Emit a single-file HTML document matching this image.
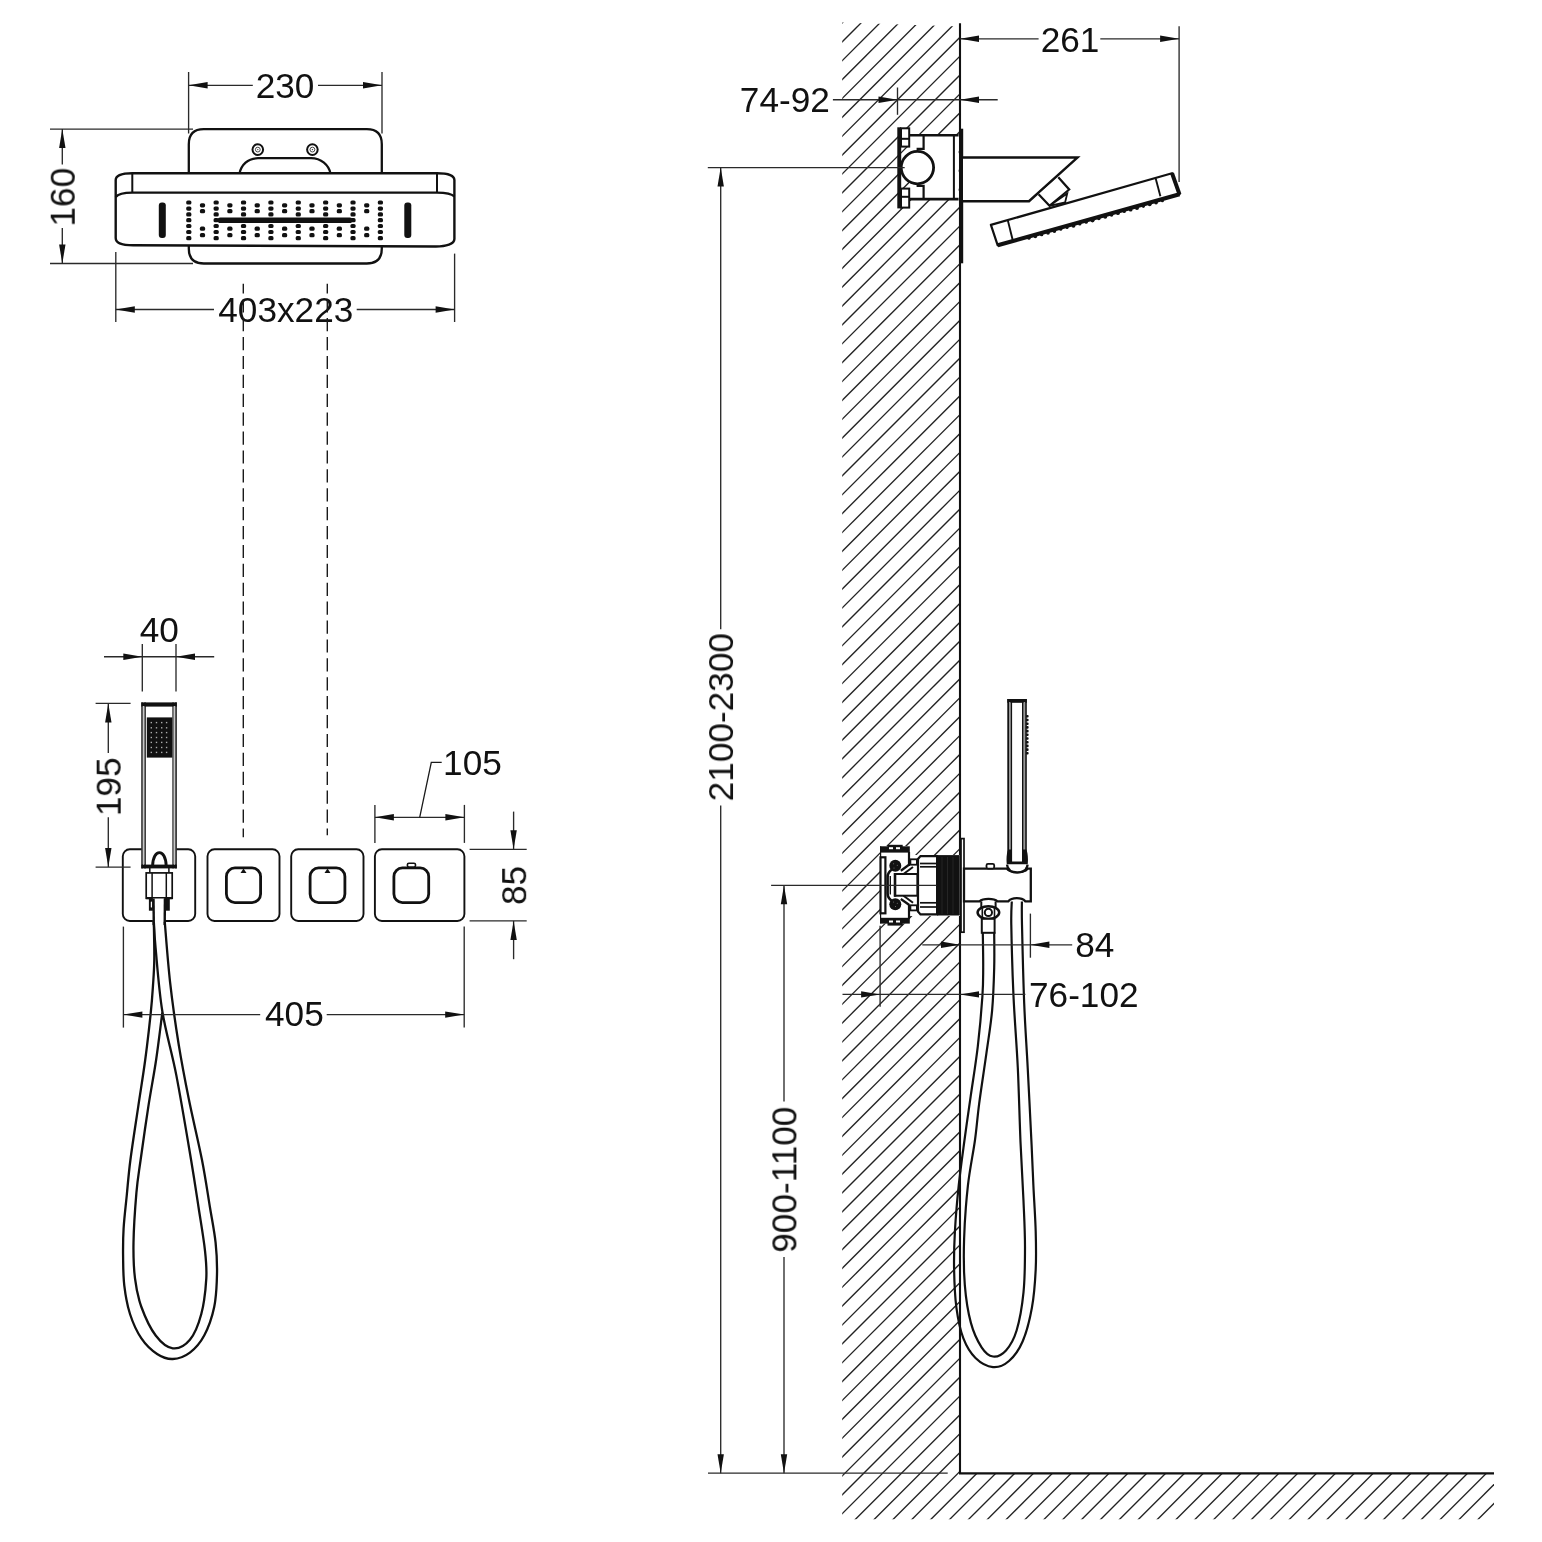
<!DOCTYPE html>
<html><head><meta charset="utf-8"><style>
html,body{margin:0;padding:0;background:#fff;}
svg{display:block;}
text{will-change:transform;}
text{font-family:"Liberation Sans",sans-serif;font-size:35.2px;fill:#111;}
</style></head><body>
<svg width="1542" height="1542" viewBox="0 0 1542 1542">
<rect width="1542" height="1542" fill="#fff"/>
<path d="M188.8,144.2 Q188.8,129.2 203.8,129.2 L366.8,129.2 Q381.8,129.2 381.8,144.2 L381.8,248.5 Q381.8,263.5 366.8,263.5 L203.8,263.5 Q188.8,263.5 188.8,248.5 Z" fill="#fff" stroke="#111" stroke-width="2.3"/>
<circle cx="257.8" cy="149.6" r="5.3" fill="#fff" stroke="#111" stroke-width="2"/>
<circle cx="257.8" cy="149.6" r="2.4" fill="none" stroke="#333" stroke-width="0.9"/>
<circle cx="257.8" cy="149.6" r="0.7" fill="#333"/>
<circle cx="312.4" cy="149.6" r="5.3" fill="#fff" stroke="#111" stroke-width="2"/>
<circle cx="312.4" cy="149.6" r="2.4" fill="none" stroke="#333" stroke-width="0.9"/>
<circle cx="312.4" cy="149.6" r="0.7" fill="#333"/>
<path d="M239.4,174 C241,165 248,158.2 258,158.2 L311,158.2 C321,158.2 329,165 330.6,174" fill="#fff" stroke="#111" stroke-width="2.3" />
<path d="M132.3,173.2 L437,173.2 C447,173.2 454.2,175.5 454.4,180 L454.4,239 C454.4,244 446,246.5 436,246.5 L133,245.3 C122,245.3 115.7,243 115.7,238 L115.7,180 C115.7,175.5 122,173.2 132.3,173.2 Z" fill="#fff" stroke="#111" stroke-width="2.4" />
<path d="M115.7,197 C118,194 124,192.6 132.3,192.6 L437,192.6 C446,192.6 452,194 454.4,196.5" fill="none" stroke="#111" stroke-width="2.4" />
<line x1="132.30" y1="173.20" x2="132.30" y2="192.60" stroke="#111" stroke-width="2" />
<line x1="437.00" y1="173.20" x2="437.00" y2="192.60" stroke="#111" stroke-width="2" />
<rect x="158.8" y="202.5" width="7" height="35.5" rx="3" fill="#111"/>
<rect x="404.3" y="202.5" width="7" height="35.5" rx="3" fill="#111"/>
<rect x="186.20" y="200.40" width="5.2" height="4.2" rx="1.6" fill="#111"/>
<rect x="186.20" y="206.50" width="5.2" height="4.2" rx="1.6" fill="#111"/>
<rect x="186.20" y="212.30" width="5.2" height="4.2" rx="1.6" fill="#111"/>
<rect x="186.20" y="218.10" width="5.2" height="4.2" rx="1.6" fill="#111"/>
<rect x="186.20" y="223.90" width="5.2" height="4.2" rx="1.6" fill="#111"/>
<rect x="186.20" y="229.90" width="5.2" height="4.2" rx="1.6" fill="#111"/>
<rect x="186.20" y="236.10" width="5.2" height="4.2" rx="1.6" fill="#111"/>
<rect x="213.57" y="200.40" width="5.2" height="4.2" rx="1.6" fill="#111"/>
<rect x="213.57" y="206.50" width="5.2" height="4.2" rx="1.6" fill="#111"/>
<rect x="213.57" y="212.30" width="5.2" height="4.2" rx="1.6" fill="#111"/>
<rect x="213.57" y="218.10" width="5.2" height="4.2" rx="1.6" fill="#111"/>
<rect x="213.57" y="223.90" width="5.2" height="4.2" rx="1.6" fill="#111"/>
<rect x="213.57" y="229.90" width="5.2" height="4.2" rx="1.6" fill="#111"/>
<rect x="213.57" y="236.10" width="5.2" height="4.2" rx="1.6" fill="#111"/>
<rect x="240.94" y="200.40" width="5.2" height="4.2" rx="1.6" fill="#111"/>
<rect x="240.94" y="206.50" width="5.2" height="4.2" rx="1.6" fill="#111"/>
<rect x="240.94" y="212.30" width="5.2" height="4.2" rx="1.6" fill="#111"/>
<rect x="240.94" y="218.10" width="5.2" height="4.2" rx="1.6" fill="#111"/>
<rect x="240.94" y="223.90" width="5.2" height="4.2" rx="1.6" fill="#111"/>
<rect x="240.94" y="229.90" width="5.2" height="4.2" rx="1.6" fill="#111"/>
<rect x="240.94" y="236.10" width="5.2" height="4.2" rx="1.6" fill="#111"/>
<rect x="268.31" y="200.40" width="5.2" height="4.2" rx="1.6" fill="#111"/>
<rect x="268.31" y="206.50" width="5.2" height="4.2" rx="1.6" fill="#111"/>
<rect x="268.31" y="212.30" width="5.2" height="4.2" rx="1.6" fill="#111"/>
<rect x="268.31" y="218.10" width="5.2" height="4.2" rx="1.6" fill="#111"/>
<rect x="268.31" y="223.90" width="5.2" height="4.2" rx="1.6" fill="#111"/>
<rect x="268.31" y="229.90" width="5.2" height="4.2" rx="1.6" fill="#111"/>
<rect x="268.31" y="236.10" width="5.2" height="4.2" rx="1.6" fill="#111"/>
<rect x="295.68" y="200.40" width="5.2" height="4.2" rx="1.6" fill="#111"/>
<rect x="295.68" y="206.50" width="5.2" height="4.2" rx="1.6" fill="#111"/>
<rect x="295.68" y="212.30" width="5.2" height="4.2" rx="1.6" fill="#111"/>
<rect x="295.68" y="218.10" width="5.2" height="4.2" rx="1.6" fill="#111"/>
<rect x="295.68" y="223.90" width="5.2" height="4.2" rx="1.6" fill="#111"/>
<rect x="295.68" y="229.90" width="5.2" height="4.2" rx="1.6" fill="#111"/>
<rect x="295.68" y="236.10" width="5.2" height="4.2" rx="1.6" fill="#111"/>
<rect x="323.05" y="200.40" width="5.2" height="4.2" rx="1.6" fill="#111"/>
<rect x="323.05" y="206.50" width="5.2" height="4.2" rx="1.6" fill="#111"/>
<rect x="323.05" y="212.30" width="5.2" height="4.2" rx="1.6" fill="#111"/>
<rect x="323.05" y="218.10" width="5.2" height="4.2" rx="1.6" fill="#111"/>
<rect x="323.05" y="223.90" width="5.2" height="4.2" rx="1.6" fill="#111"/>
<rect x="323.05" y="229.90" width="5.2" height="4.2" rx="1.6" fill="#111"/>
<rect x="323.05" y="236.10" width="5.2" height="4.2" rx="1.6" fill="#111"/>
<rect x="350.42" y="200.40" width="5.2" height="4.2" rx="1.6" fill="#111"/>
<rect x="350.42" y="206.50" width="5.2" height="4.2" rx="1.6" fill="#111"/>
<rect x="350.42" y="212.30" width="5.2" height="4.2" rx="1.6" fill="#111"/>
<rect x="350.42" y="218.10" width="5.2" height="4.2" rx="1.6" fill="#111"/>
<rect x="350.42" y="223.90" width="5.2" height="4.2" rx="1.6" fill="#111"/>
<rect x="350.42" y="229.90" width="5.2" height="4.2" rx="1.6" fill="#111"/>
<rect x="350.42" y="236.10" width="5.2" height="4.2" rx="1.6" fill="#111"/>
<rect x="377.79" y="200.40" width="5.2" height="4.2" rx="1.6" fill="#111"/>
<rect x="377.79" y="206.50" width="5.2" height="4.2" rx="1.6" fill="#111"/>
<rect x="377.79" y="212.30" width="5.2" height="4.2" rx="1.6" fill="#111"/>
<rect x="377.79" y="218.10" width="5.2" height="4.2" rx="1.6" fill="#111"/>
<rect x="377.79" y="223.90" width="5.2" height="4.2" rx="1.6" fill="#111"/>
<rect x="377.79" y="229.90" width="5.2" height="4.2" rx="1.6" fill="#111"/>
<rect x="377.79" y="236.10" width="5.2" height="4.2" rx="1.6" fill="#111"/>
<rect x="199.90" y="203.20" width="5.2" height="4.2" rx="1.6" fill="#111"/>
<rect x="199.90" y="209.10" width="5.2" height="4.2" rx="1.6" fill="#111"/>
<rect x="199.90" y="226.60" width="5.2" height="4.2" rx="1.6" fill="#111"/>
<rect x="199.90" y="233.10" width="5.2" height="4.2" rx="1.6" fill="#111"/>
<rect x="227.27" y="203.20" width="5.2" height="4.2" rx="1.6" fill="#111"/>
<rect x="227.27" y="209.10" width="5.2" height="4.2" rx="1.6" fill="#111"/>
<rect x="227.27" y="226.60" width="5.2" height="4.2" rx="1.6" fill="#111"/>
<rect x="227.27" y="233.10" width="5.2" height="4.2" rx="1.6" fill="#111"/>
<rect x="254.64" y="203.20" width="5.2" height="4.2" rx="1.6" fill="#111"/>
<rect x="254.64" y="209.10" width="5.2" height="4.2" rx="1.6" fill="#111"/>
<rect x="254.64" y="226.60" width="5.2" height="4.2" rx="1.6" fill="#111"/>
<rect x="254.64" y="233.10" width="5.2" height="4.2" rx="1.6" fill="#111"/>
<rect x="282.01" y="203.20" width="5.2" height="4.2" rx="1.6" fill="#111"/>
<rect x="282.01" y="209.10" width="5.2" height="4.2" rx="1.6" fill="#111"/>
<rect x="282.01" y="226.60" width="5.2" height="4.2" rx="1.6" fill="#111"/>
<rect x="282.01" y="233.10" width="5.2" height="4.2" rx="1.6" fill="#111"/>
<rect x="309.38" y="203.20" width="5.2" height="4.2" rx="1.6" fill="#111"/>
<rect x="309.38" y="209.10" width="5.2" height="4.2" rx="1.6" fill="#111"/>
<rect x="309.38" y="226.60" width="5.2" height="4.2" rx="1.6" fill="#111"/>
<rect x="309.38" y="233.10" width="5.2" height="4.2" rx="1.6" fill="#111"/>
<rect x="336.75" y="203.20" width="5.2" height="4.2" rx="1.6" fill="#111"/>
<rect x="336.75" y="209.10" width="5.2" height="4.2" rx="1.6" fill="#111"/>
<rect x="336.75" y="226.60" width="5.2" height="4.2" rx="1.6" fill="#111"/>
<rect x="336.75" y="233.10" width="5.2" height="4.2" rx="1.6" fill="#111"/>
<rect x="364.12" y="203.20" width="5.2" height="4.2" rx="1.6" fill="#111"/>
<rect x="364.12" y="209.10" width="5.2" height="4.2" rx="1.6" fill="#111"/>
<rect x="364.12" y="226.60" width="5.2" height="4.2" rx="1.6" fill="#111"/>
<rect x="364.12" y="233.10" width="5.2" height="4.2" rx="1.6" fill="#111"/>
<rect x="217.5" y="217.4" width="135" height="5.6" rx="2.8" fill="#111"/>
<line x1="188.60" y1="72.00" x2="188.60" y2="133.50" stroke="#2a2a2a" stroke-width="1.35" />
<line x1="382.00" y1="72.00" x2="382.00" y2="133.50" stroke="#2a2a2a" stroke-width="1.35" />
<line x1="188.60" y1="85.30" x2="252.80" y2="85.30" stroke="#2a2a2a" stroke-width="1.35" />
<line x1="318.00" y1="85.30" x2="382.00" y2="85.30" stroke="#2a2a2a" stroke-width="1.35" />
<polygon points="188.60,85.30 207.60,82.10 207.60,88.50" fill="#111"/>
<polygon points="382.00,85.30 363.00,88.50 363.00,82.10" fill="#111"/>
<text x="255.63" y="97.64">230</text>
<line x1="50.00" y1="129.10" x2="193.00" y2="129.10" stroke="#2a2a2a" stroke-width="1.35" />
<line x1="50.00" y1="263.50" x2="193.00" y2="263.50" stroke="#2a2a2a" stroke-width="1.35" />
<line x1="62.30" y1="129.10" x2="62.30" y2="164.60" stroke="#2a2a2a" stroke-width="1.35" />
<line x1="62.30" y1="227.90" x2="62.30" y2="263.50" stroke="#2a2a2a" stroke-width="1.35" />
<polygon points="62.30,129.10 65.50,148.10 59.10,148.10" fill="#111"/>
<polygon points="62.30,263.50 59.10,244.50 65.50,244.50" fill="#111"/>
<text transform="translate(74.74,226.60) rotate(-90)" x="0" y="0">160</text>
<line x1="115.80" y1="252.00" x2="115.80" y2="322.00" stroke="#2a2a2a" stroke-width="1.35" />
<line x1="454.60" y1="253.60" x2="454.60" y2="322.00" stroke="#2a2a2a" stroke-width="1.35" />
<line x1="115.80" y1="309.50" x2="214.00" y2="309.50" stroke="#2a2a2a" stroke-width="1.35" />
<line x1="356.70" y1="309.50" x2="454.60" y2="309.50" stroke="#2a2a2a" stroke-width="1.35" />
<polygon points="115.80,309.50 134.80,306.30 134.80,312.70" fill="#111"/>
<polygon points="454.60,309.50 435.60,312.70 435.60,306.30" fill="#111"/>
<text x="218.29" y="321.54">403x223</text>
<line x1="243.3" y1="283.8" x2="243.3" y2="837.3" stroke="#1a1a1a" stroke-width="1.4" stroke-dasharray="13.2 5.7" stroke-dashoffset="3.5"/>
<line x1="327.3" y1="283.8" x2="327.3" y2="835.3" stroke="#1a1a1a" stroke-width="1.4" stroke-dasharray="13.2 5.7" stroke-dashoffset="3.5"/>
<rect x="122.80" y="849.30" width="72.40" height="71.70" rx="7" ry="7" fill="#fff" stroke="#111" stroke-width="1.9"/>
<rect x="207.50" y="849.30" width="72.00" height="71.70" rx="7" ry="7" fill="#fff" stroke="#111" stroke-width="1.9"/>
<rect x="291.20" y="849.30" width="72.30" height="71.70" rx="7" ry="7" fill="#fff" stroke="#111" stroke-width="1.9"/>
<rect x="374.90" y="849.30" width="89.50" height="71.70" rx="7" ry="7" fill="#fff" stroke="#111" stroke-width="1.9"/>
<rect x="226.40" y="867.90" width="34.20" height="34.70" rx="8.5" ry="8.5" fill="#fff" stroke="#111" stroke-width="2.8"/>
<rect x="310.10" y="867.90" width="34.80" height="34.70" rx="8.5" ry="8.5" fill="#fff" stroke="#111" stroke-width="2.8"/>
<rect x="393.90" y="867.90" width="34.80" height="34.70" rx="8.5" ry="8.5" fill="#fff" stroke="#111" stroke-width="2.8"/>
<polygon points="240.50,873 246.50,873 243.50,868.4" fill="#111"/>
<polygon points="324.50,873 330.50,873 327.50,868.4" fill="#111"/>
<rect x="407.40" y="863.30" width="8.10" height="3.70" rx="1.5" ry="1.5" fill="#fff" stroke="#111" stroke-width="1.6"/>
<path d="M153.80,921.00 C153.88,927.32 154.43,948.17 154.30,958.90 C154.17,969.63 153.60,976.32 153.00,985.40 C152.40,994.48 152.00,1000.97 150.70,1013.40 C149.40,1025.83 147.28,1044.43 145.20,1060.00 C143.12,1075.57 140.67,1090.13 138.20,1106.80 C135.73,1123.47 132.30,1145.30 130.40,1160.00 C128.50,1174.70 127.93,1183.58 126.80,1195.00 C125.67,1206.42 124.22,1218.17 123.60,1228.50 C122.98,1238.83 122.98,1247.48 123.10,1257.00 C123.22,1266.52 123.15,1276.10 124.30,1285.60 C125.45,1295.10 127.15,1305.20 130.00,1314.00 C132.85,1322.80 136.88,1331.73 141.40,1338.40 C145.92,1345.07 151.87,1350.57 157.10,1354.00 C162.33,1357.43 167.33,1359.23 172.80,1359.00 C178.27,1358.77 184.67,1356.52 189.90,1352.60 C195.13,1348.68 200.15,1343.10 204.20,1335.50 C208.25,1327.90 212.07,1317.25 214.20,1307.00 C216.33,1296.75 216.77,1284.72 217.00,1274.00 C217.23,1263.28 216.78,1253.87 215.60,1242.70 C214.42,1231.53 212.17,1220.78 209.90,1207.00 C207.63,1193.22 205.52,1178.00 202.00,1160.00 C198.48,1142.00 192.68,1118.25 188.80,1099.00 C184.92,1079.75 181.82,1063.95 178.70,1044.50 C175.58,1025.05 172.43,1002.88 170.10,982.30 C167.77,961.72 165.60,931.22 164.70,921.00" fill="none" stroke="#111" stroke-width="2.3" />
<path d="M153.80,921.00 C154.10,925.50 154.17,932.87 155.60,948.00 C157.03,963.13 158.93,990.53 162.40,1011.80 C165.87,1033.07 171.62,1050.90 176.40,1075.60 C181.18,1100.30 187.42,1138.10 191.10,1160.00 C194.78,1181.90 196.20,1192.02 198.50,1207.00 C200.80,1221.98 203.60,1238.00 204.90,1249.90 C206.20,1261.80 206.90,1267.72 206.30,1278.40 C205.70,1289.08 204.03,1303.77 201.30,1314.00 C198.57,1324.23 194.65,1334.08 189.90,1339.80 C185.15,1345.52 178.50,1349.02 172.80,1348.30 C167.10,1347.58 160.93,1342.38 155.70,1335.50 C150.47,1328.62 144.85,1316.52 141.40,1307.00 C137.95,1297.48 136.32,1289.12 135.00,1278.40 C133.68,1267.68 133.27,1256.97 133.50,1242.70 C133.73,1228.43 135.22,1206.58 136.40,1192.80 C137.58,1179.02 138.62,1174.33 140.60,1160.00 C142.58,1145.67 145.72,1123.47 148.30,1106.80 C150.88,1090.13 153.75,1075.83 156.10,1060.00 C158.45,1044.17 161.35,1019.83 162.40,1011.80" fill="none" stroke="#111" stroke-width="2.3" />
<rect x="141.6" y="703.1" width="35" height="164" fill="#fff"/>
<rect x="141.30" y="702.40" width="35.50" height="4.20" fill="#111"/>
<rect x="141.30" y="864.60" width="35.50" height="3.80" fill="#111"/>
<rect x="141.30" y="702.40" width="1.50" height="166.00" fill="#111"/>
<rect x="144.30" y="702.40" width="1.50" height="166.00" fill="#111"/>
<rect x="172.40" y="702.40" width="1.30" height="166.00" fill="#111"/>
<rect x="175.20" y="702.40" width="1.60" height="166.00" fill="#111"/>
<rect x="142.8" y="706" width="1.5" height="158" fill="#c8c8c8"/>
<rect x="173.7" y="706" width="1.5" height="158" fill="#c8c8c8"/>
<rect x="146.80" y="717.40" width="25.50" height="40.20" fill="#111"/>
<rect x="150.60" y="721.90" width="1.4" height="1.4" fill="#aaa"/>
<rect x="155.80" y="721.90" width="1.4" height="1.4" fill="#aaa"/>
<rect x="161.00" y="721.90" width="1.4" height="1.4" fill="#aaa"/>
<rect x="165.90" y="721.90" width="1.4" height="1.4" fill="#aaa"/>
<rect x="150.60" y="727.10" width="1.4" height="1.4" fill="#aaa"/>
<rect x="155.80" y="727.10" width="1.4" height="1.4" fill="#aaa"/>
<rect x="161.00" y="727.10" width="1.4" height="1.4" fill="#aaa"/>
<rect x="165.90" y="727.10" width="1.4" height="1.4" fill="#aaa"/>
<rect x="150.60" y="731.90" width="1.4" height="1.4" fill="#aaa"/>
<rect x="155.80" y="731.90" width="1.4" height="1.4" fill="#aaa"/>
<rect x="161.00" y="731.90" width="1.4" height="1.4" fill="#aaa"/>
<rect x="165.90" y="731.90" width="1.4" height="1.4" fill="#aaa"/>
<rect x="150.60" y="736.80" width="1.4" height="1.4" fill="#aaa"/>
<rect x="155.80" y="736.80" width="1.4" height="1.4" fill="#aaa"/>
<rect x="161.00" y="736.80" width="1.4" height="1.4" fill="#aaa"/>
<rect x="165.90" y="736.80" width="1.4" height="1.4" fill="#aaa"/>
<rect x="150.60" y="741.70" width="1.4" height="1.4" fill="#aaa"/>
<rect x="155.80" y="741.70" width="1.4" height="1.4" fill="#aaa"/>
<rect x="161.00" y="741.70" width="1.4" height="1.4" fill="#aaa"/>
<rect x="165.90" y="741.70" width="1.4" height="1.4" fill="#aaa"/>
<rect x="150.60" y="746.80" width="1.4" height="1.4" fill="#aaa"/>
<rect x="155.80" y="746.80" width="1.4" height="1.4" fill="#aaa"/>
<rect x="161.00" y="746.80" width="1.4" height="1.4" fill="#aaa"/>
<rect x="165.90" y="746.80" width="1.4" height="1.4" fill="#aaa"/>
<rect x="150.60" y="751.70" width="1.4" height="1.4" fill="#aaa"/>
<rect x="155.80" y="751.70" width="1.4" height="1.4" fill="#aaa"/>
<rect x="161.00" y="751.70" width="1.4" height="1.4" fill="#aaa"/>
<rect x="165.90" y="751.70" width="1.4" height="1.4" fill="#aaa"/>
<path d="M152.6,866 C152.8,857 156,852.6 159.4,852.6 C162.8,852.6 166,857 166.2,866" fill="none" stroke="#111" stroke-width="2.9" />
<line x1="149.80" y1="867.50" x2="149.80" y2="873.00" stroke="#111" stroke-width="1.5" />
<line x1="168.90" y1="867.50" x2="168.90" y2="873.00" stroke="#111" stroke-width="1.5" />
<rect x="146.2" y="872.9" width="26" height="25.4" fill="#fff" stroke="#111" stroke-width="1.7"/>
<line x1="146.20" y1="898.10" x2="172.20" y2="898.10" stroke="#111" stroke-width="2.2" />
<line x1="152.10" y1="872.90" x2="152.10" y2="898.20" stroke="#111" stroke-width="1.5" />
<line x1="166.30" y1="872.90" x2="166.30" y2="898.20" stroke="#111" stroke-width="1.5" />
<rect x="148.90" y="898.00" width="5.70" height="12.70" fill="#111"/>
<rect x="163.50" y="898.00" width="6.30" height="12.70" fill="#111"/>
<rect x="150.8" y="901.5" width="1.2" height="6" rx="0.6" fill="#fff"/>
<rect x="152.9" y="898.5" width="11.4" height="23.6" fill="#fff"/>
<line x1="153.50" y1="898.50" x2="153.80" y2="925.00" stroke="#111" stroke-width="2.4" />
<line x1="164.90" y1="898.50" x2="164.70" y2="925.00" stroke="#111" stroke-width="2.4" />
<line x1="104.00" y1="656.70" x2="214.20" y2="656.70" stroke="#2a2a2a" stroke-width="1.35" />
<line x1="142.30" y1="644.00" x2="142.30" y2="691.40" stroke="#2a2a2a" stroke-width="1.35" />
<line x1="176.00" y1="644.00" x2="176.00" y2="691.40" stroke="#2a2a2a" stroke-width="1.35" />
<polygon points="142.30,656.70 123.30,659.90 123.30,653.50" fill="#111"/>
<polygon points="176.00,656.70 195.00,653.50 195.00,659.90" fill="#111"/>
<text x="139.72" y="641.79">40</text>
<line x1="95.60" y1="703.40" x2="130.60" y2="703.40" stroke="#2a2a2a" stroke-width="1.35" />
<line x1="95.60" y1="867.10" x2="130.60" y2="867.10" stroke="#2a2a2a" stroke-width="1.35" />
<line x1="108.30" y1="703.40" x2="108.30" y2="753.00" stroke="#2a2a2a" stroke-width="1.35" />
<line x1="108.30" y1="817.20" x2="108.30" y2="867.10" stroke="#2a2a2a" stroke-width="1.35" />
<polygon points="108.30,703.40 111.50,722.40 105.10,722.40" fill="#111"/>
<polygon points="108.30,867.10 105.10,848.10 111.50,848.10" fill="#111"/>
<text transform="translate(120.69,816.15) rotate(-90)" x="0" y="0">195</text>
<line x1="374.90" y1="804.90" x2="374.90" y2="842.90" stroke="#2a2a2a" stroke-width="1.35" />
<line x1="464.40" y1="804.90" x2="464.40" y2="842.90" stroke="#2a2a2a" stroke-width="1.35" />
<line x1="374.90" y1="817.30" x2="464.40" y2="817.30" stroke="#2a2a2a" stroke-width="1.35" />
<polygon points="374.90,817.30 393.90,814.10 393.90,820.50" fill="#111"/>
<polygon points="464.40,817.30 445.40,820.50 445.40,814.10" fill="#111"/>
<polyline points="419.7,817.3 431.3,762.4 441.7,762.4" fill="none" stroke="#1a1a1a" stroke-width="1.3"/>
<text x="443.10" y="774.84">105</text>
<line x1="469.60" y1="849.30" x2="526.70" y2="849.30" stroke="#2a2a2a" stroke-width="1.35" />
<line x1="469.60" y1="920.90" x2="526.70" y2="920.90" stroke="#2a2a2a" stroke-width="1.35" />
<line x1="513.60" y1="811.60" x2="513.60" y2="849.30" stroke="#2a2a2a" stroke-width="1.35" />
<line x1="513.60" y1="920.90" x2="513.60" y2="959.20" stroke="#2a2a2a" stroke-width="1.35" />
<polygon points="513.60,849.30 510.40,830.30 516.80,830.30" fill="#111"/>
<polygon points="513.60,920.90 516.80,939.90 510.40,939.90" fill="#111"/>
<text transform="translate(526.19,904.94) rotate(-90)" x="0" y="0">85</text>
<line x1="123.40" y1="926.60" x2="123.40" y2="1027.60" stroke="#2a2a2a" stroke-width="1.35" />
<line x1="464.20" y1="926.40" x2="464.20" y2="1027.60" stroke="#2a2a2a" stroke-width="1.35" />
<line x1="123.40" y1="1014.60" x2="260.20" y2="1014.60" stroke="#2a2a2a" stroke-width="1.35" />
<line x1="326.70" y1="1014.60" x2="464.20" y2="1014.60" stroke="#2a2a2a" stroke-width="1.35" />
<polygon points="123.40,1014.60 142.40,1011.40 142.40,1017.80" fill="#111"/>
<polygon points="464.20,1014.60 445.20,1017.80 445.20,1011.40" fill="#111"/>
<text x="265.01" y="1026.34">405</text>
<defs><clipPath id="hc"><polygon points="842.2,22.6 960,26.4 960,1473.3 1494,1473.3 1494,1519.2 842.2,1519.2"/></clipPath></defs>
<g clip-path="url(#hc)" stroke="#222" stroke-width="1.35">
<line x1="846.26" y1="0" x2="-695.74" y2="1542"/>
<line x1="865.13" y1="0" x2="-676.87" y2="1542"/>
<line x1="884.00" y1="0" x2="-658.00" y2="1542"/>
<line x1="902.87" y1="0" x2="-639.13" y2="1542"/>
<line x1="921.74" y1="0" x2="-620.26" y2="1542"/>
<line x1="940.61" y1="0" x2="-601.39" y2="1542"/>
<line x1="959.48" y1="0" x2="-582.52" y2="1542"/>
<line x1="978.35" y1="0" x2="-563.65" y2="1542"/>
<line x1="997.22" y1="0" x2="-544.78" y2="1542"/>
<line x1="1016.09" y1="0" x2="-525.91" y2="1542"/>
<line x1="1034.96" y1="0" x2="-507.04" y2="1542"/>
<line x1="1053.83" y1="0" x2="-488.17" y2="1542"/>
<line x1="1072.70" y1="0" x2="-469.30" y2="1542"/>
<line x1="1091.57" y1="0" x2="-450.43" y2="1542"/>
<line x1="1110.44" y1="0" x2="-431.56" y2="1542"/>
<line x1="1129.31" y1="0" x2="-412.69" y2="1542"/>
<line x1="1148.18" y1="0" x2="-393.82" y2="1542"/>
<line x1="1167.05" y1="0" x2="-374.95" y2="1542"/>
<line x1="1185.92" y1="0" x2="-356.08" y2="1542"/>
<line x1="1204.79" y1="0" x2="-337.21" y2="1542"/>
<line x1="1223.66" y1="0" x2="-318.34" y2="1542"/>
<line x1="1242.53" y1="0" x2="-299.47" y2="1542"/>
<line x1="1261.40" y1="0" x2="-280.60" y2="1542"/>
<line x1="1280.27" y1="0" x2="-261.73" y2="1542"/>
<line x1="1299.14" y1="0" x2="-242.86" y2="1542"/>
<line x1="1318.01" y1="0" x2="-223.99" y2="1542"/>
<line x1="1336.88" y1="0" x2="-205.12" y2="1542"/>
<line x1="1355.75" y1="0" x2="-186.25" y2="1542"/>
<line x1="1374.62" y1="0" x2="-167.38" y2="1542"/>
<line x1="1393.49" y1="0" x2="-148.51" y2="1542"/>
<line x1="1412.36" y1="0" x2="-129.64" y2="1542"/>
<line x1="1431.23" y1="0" x2="-110.77" y2="1542"/>
<line x1="1450.10" y1="0" x2="-91.90" y2="1542"/>
<line x1="1468.97" y1="0" x2="-73.03" y2="1542"/>
<line x1="1487.84" y1="0" x2="-54.16" y2="1542"/>
<line x1="1506.71" y1="0" x2="-35.29" y2="1542"/>
<line x1="1525.58" y1="0" x2="-16.42" y2="1542"/>
<line x1="1544.45" y1="0" x2="2.45" y2="1542"/>
<line x1="1563.32" y1="0" x2="21.32" y2="1542"/>
<line x1="1582.19" y1="0" x2="40.19" y2="1542"/>
<line x1="1601.06" y1="0" x2="59.06" y2="1542"/>
<line x1="1619.93" y1="0" x2="77.93" y2="1542"/>
<line x1="1638.80" y1="0" x2="96.80" y2="1542"/>
<line x1="1657.67" y1="0" x2="115.67" y2="1542"/>
<line x1="1676.54" y1="0" x2="134.54" y2="1542"/>
<line x1="1695.41" y1="0" x2="153.41" y2="1542"/>
<line x1="1714.28" y1="0" x2="172.28" y2="1542"/>
<line x1="1733.15" y1="0" x2="191.15" y2="1542"/>
<line x1="1752.02" y1="0" x2="210.02" y2="1542"/>
<line x1="1770.89" y1="0" x2="228.89" y2="1542"/>
<line x1="1789.76" y1="0" x2="247.76" y2="1542"/>
<line x1="1808.63" y1="0" x2="266.63" y2="1542"/>
<line x1="1827.50" y1="0" x2="285.50" y2="1542"/>
<line x1="1846.37" y1="0" x2="304.37" y2="1542"/>
<line x1="1865.24" y1="0" x2="323.24" y2="1542"/>
<line x1="1884.11" y1="0" x2="342.11" y2="1542"/>
<line x1="1902.98" y1="0" x2="360.98" y2="1542"/>
<line x1="1921.85" y1="0" x2="379.85" y2="1542"/>
<line x1="1940.72" y1="0" x2="398.72" y2="1542"/>
<line x1="1959.59" y1="0" x2="417.59" y2="1542"/>
<line x1="1978.46" y1="0" x2="436.46" y2="1542"/>
<line x1="1997.33" y1="0" x2="455.33" y2="1542"/>
<line x1="2016.20" y1="0" x2="474.20" y2="1542"/>
<line x1="2035.07" y1="0" x2="493.07" y2="1542"/>
<line x1="2053.94" y1="0" x2="511.94" y2="1542"/>
<line x1="2072.81" y1="0" x2="530.81" y2="1542"/>
<line x1="2091.68" y1="0" x2="549.68" y2="1542"/>
<line x1="2110.55" y1="0" x2="568.55" y2="1542"/>
<line x1="2129.42" y1="0" x2="587.42" y2="1542"/>
<line x1="2148.29" y1="0" x2="606.29" y2="1542"/>
<line x1="2167.16" y1="0" x2="625.16" y2="1542"/>
<line x1="2186.03" y1="0" x2="644.03" y2="1542"/>
<line x1="2204.90" y1="0" x2="662.90" y2="1542"/>
<line x1="2223.77" y1="0" x2="681.77" y2="1542"/>
<line x1="2242.64" y1="0" x2="700.64" y2="1542"/>
<line x1="2261.51" y1="0" x2="719.51" y2="1542"/>
<line x1="2280.38" y1="0" x2="738.38" y2="1542"/>
<line x1="2299.25" y1="0" x2="757.25" y2="1542"/>
<line x1="2318.12" y1="0" x2="776.12" y2="1542"/>
<line x1="2336.99" y1="0" x2="794.99" y2="1542"/>
<line x1="2355.86" y1="0" x2="813.86" y2="1542"/>
<line x1="2374.73" y1="0" x2="832.73" y2="1542"/>
<line x1="2393.60" y1="0" x2="851.60" y2="1542"/>
<line x1="2412.47" y1="0" x2="870.47" y2="1542"/>
<line x1="2431.34" y1="0" x2="889.34" y2="1542"/>
<line x1="2450.21" y1="0" x2="908.21" y2="1542"/>
<line x1="2469.08" y1="0" x2="927.08" y2="1542"/>
<line x1="2487.95" y1="0" x2="945.95" y2="1542"/>
<line x1="2506.82" y1="0" x2="964.82" y2="1542"/>
<line x1="2525.69" y1="0" x2="983.69" y2="1542"/>
<line x1="2544.56" y1="0" x2="1002.56" y2="1542"/>
<line x1="2563.43" y1="0" x2="1021.43" y2="1542"/>
<line x1="2582.30" y1="0" x2="1040.30" y2="1542"/>
<line x1="2601.17" y1="0" x2="1059.17" y2="1542"/>
<line x1="2620.04" y1="0" x2="1078.04" y2="1542"/>
<line x1="2638.91" y1="0" x2="1096.91" y2="1542"/>
<line x1="2657.78" y1="0" x2="1115.78" y2="1542"/>
<line x1="2676.65" y1="0" x2="1134.65" y2="1542"/>
<line x1="2695.52" y1="0" x2="1153.52" y2="1542"/>
<line x1="2714.39" y1="0" x2="1172.39" y2="1542"/>
<line x1="2733.26" y1="0" x2="1191.26" y2="1542"/>
<line x1="2752.13" y1="0" x2="1210.13" y2="1542"/>
<line x1="2771.00" y1="0" x2="1229.00" y2="1542"/>
<line x1="2789.87" y1="0" x2="1247.87" y2="1542"/>
<line x1="2808.74" y1="0" x2="1266.74" y2="1542"/>
<line x1="2827.61" y1="0" x2="1285.61" y2="1542"/>
<line x1="2846.48" y1="0" x2="1304.48" y2="1542"/>
<line x1="2865.35" y1="0" x2="1323.35" y2="1542"/>
<line x1="2884.22" y1="0" x2="1342.22" y2="1542"/>
<line x1="2903.09" y1="0" x2="1361.09" y2="1542"/>
<line x1="2921.96" y1="0" x2="1379.96" y2="1542"/>
<line x1="2940.83" y1="0" x2="1398.83" y2="1542"/>
<line x1="2959.70" y1="0" x2="1417.70" y2="1542"/>
<line x1="2978.57" y1="0" x2="1436.57" y2="1542"/>
<line x1="2997.44" y1="0" x2="1455.44" y2="1542"/>
<line x1="3016.31" y1="0" x2="1474.31" y2="1542"/>
</g>
<line x1="960.00" y1="23.20" x2="960.00" y2="1473.30" stroke="#111" stroke-width="2.1" />
<line x1="959.00" y1="1473.30" x2="1494.00" y2="1473.30" stroke="#111" stroke-width="2.3" />
<line x1="708.00" y1="1473.20" x2="947.70" y2="1473.20" stroke="#2a2a2a" stroke-width="1.3" />
<rect x="909" y="135.3" width="49.6" height="63.8" fill="#fff"/>
<rect x="897.30" y="127.30" width="3.90" height="81.10" fill="#111"/>
<rect x="901" y="128.3" width="8.2" height="18.3" fill="#fff" stroke="#111" stroke-width="2"/>
<line x1="901.00" y1="138.80" x2="909.20" y2="138.80" stroke="#111" stroke-width="2" />
<rect x="901" y="188.6" width="8.2" height="19" fill="#fff" stroke="#111" stroke-width="2"/>
<line x1="901.00" y1="196.80" x2="909.20" y2="196.80" stroke="#111" stroke-width="2" />
<line x1="909.00" y1="135.30" x2="958.60" y2="135.30" stroke="#111" stroke-width="2.6" />
<line x1="909.00" y1="199.10" x2="958.60" y2="199.10" stroke="#111" stroke-width="2.6" />
<path d="M923.6,135.3 L923.6,148.9 L916.6,148.9" fill="none" stroke="#111" stroke-width="2.2" />
<path d="M923.6,199.1 L923.6,185.9 L916.6,185.9" fill="none" stroke="#111" stroke-width="2.2" />
<circle cx="917.4" cy="167.6" r="16.2" fill="#fff" stroke="#111" stroke-width="2.8"/>
<line x1="953.90" y1="136.00" x2="953.90" y2="199.10" stroke="#111" stroke-width="2" />
<rect x="959.40" y="128.70" width="3.80" height="134.60" fill="#111"/>
<path d="M963,157.6 L1077.4,157.6 L1029,201.3 L963,201.3" fill="#fff" stroke="#111" stroke-width="2.5" />
<path d="M1058.3,177.2 L1069.2,189.5 L1049.5,205.8 L1038.6,194.3" fill="#fff" stroke="#111" stroke-width="2.2" />
<polygon points="1049.5,205.8 1067.2,193.6 1065.1,202.4" fill="#fff" stroke="#111" stroke-width="1.8"/>
<polygon points="990.9,224.9 1172,173.2 1179.5,194.3 997.7,245.3" fill="#fff" stroke="#111" stroke-width="2.2" stroke-linejoin="round"/>
<line x1="997.70" y1="245.30" x2="1179.50" y2="194.30" stroke="#111" stroke-width="4.2" />
<line x1="1172.00" y1="173.20" x2="1179.50" y2="194.30" stroke="#111" stroke-width="4" />
<line x1="1007.90" y1="220.80" x2="1012.70" y2="239.90" stroke="#111" stroke-width="1.9" />
<circle cx="1028.94" cy="238.20" r="1.64" fill="#111"/>
<circle cx="1035.30" cy="236.41" r="1.83" fill="#111"/>
<circle cx="1041.65" cy="234.63" r="1.72" fill="#111"/>
<circle cx="1048.01" cy="232.85" r="1.86" fill="#111"/>
<circle cx="1054.36" cy="231.07" r="1.88" fill="#111"/>
<circle cx="1060.72" cy="229.28" r="1.54" fill="#111"/>
<circle cx="1067.07" cy="227.50" r="1.51" fill="#111"/>
<circle cx="1073.43" cy="225.72" r="2.00" fill="#111"/>
<circle cx="1079.78" cy="223.94" r="1.66" fill="#111"/>
<circle cx="1086.13" cy="222.15" r="1.64" fill="#111"/>
<circle cx="1092.49" cy="220.37" r="2.10" fill="#111"/>
<circle cx="1098.84" cy="218.59" r="1.78" fill="#111"/>
<circle cx="1105.20" cy="216.81" r="2.00" fill="#111"/>
<circle cx="1111.55" cy="215.02" r="1.79" fill="#111"/>
<circle cx="1117.91" cy="213.24" r="1.88" fill="#111"/>
<circle cx="1124.26" cy="211.46" r="1.59" fill="#111"/>
<circle cx="1130.62" cy="209.67" r="1.88" fill="#111"/>
<circle cx="1136.97" cy="207.89" r="2.02" fill="#111"/>
<circle cx="1143.33" cy="206.11" r="1.81" fill="#111"/>
<circle cx="1149.68" cy="204.33" r="1.94" fill="#111"/>
<circle cx="1156.04" cy="202.54" r="1.90" fill="#111"/>
<circle cx="1162.39" cy="200.76" r="1.54" fill="#111"/>
<line x1="1155.70" y1="178.60" x2="1160.40" y2="196.30" stroke="#111" stroke-width="1.9" />
<line x1="707.80" y1="167.60" x2="904.70" y2="167.60" stroke="#2a2a2a" stroke-width="1.35" />
<line x1="960.00" y1="38.80" x2="1038.60" y2="38.80" stroke="#2a2a2a" stroke-width="1.35" />
<line x1="1100.30" y1="38.80" x2="1179.10" y2="38.80" stroke="#2a2a2a" stroke-width="1.35" />
<line x1="1179.10" y1="26.30" x2="1179.10" y2="182.00" stroke="#2a2a2a" stroke-width="1.35" />
<polygon points="960.00,38.80 979.00,35.60 979.00,42.00" fill="#111"/>
<polygon points="1179.10,38.80 1160.10,42.00 1160.10,35.60" fill="#111"/>
<text x="1040.71" y="51.89">261</text>
<line x1="832.90" y1="99.70" x2="997.70" y2="99.70" stroke="#2a2a2a" stroke-width="1.35" />
<line x1="897.50" y1="87.50" x2="897.50" y2="114.80" stroke="#2a2a2a" stroke-width="1.35" />
<polygon points="897.50,99.70 878.50,102.90 878.50,96.50" fill="#111"/>
<polygon points="960.00,99.70 979.00,96.50 979.00,102.90" fill="#111"/>
<text x="739.84" y="112.14">74-92</text>
<line x1="720.70" y1="167.60" x2="720.70" y2="629.30" stroke="#2a2a2a" stroke-width="1.35" />
<line x1="720.70" y1="805.50" x2="720.70" y2="1473.20" stroke="#2a2a2a" stroke-width="1.35" />
<polygon points="720.70,167.60 723.90,186.60 717.50,186.60" fill="#111"/>
<polygon points="720.70,1473.20 717.50,1454.20 723.90,1454.20" fill="#111"/>
<text transform="translate(733.04,801.35) rotate(-90)" x="0" y="0">2100-2300</text>
<line x1="784.00" y1="885.30" x2="784.00" y2="1101.40" stroke="#2a2a2a" stroke-width="1.35" />
<line x1="784.00" y1="1257.00" x2="784.00" y2="1473.20" stroke="#2a2a2a" stroke-width="1.35" />
<polygon points="784.00,885.30 787.20,904.30 780.80,904.30" fill="#111"/>
<polygon points="784.00,1473.20 780.80,1454.20 787.20,1454.20" fill="#111"/>
<text transform="translate(796.39,1252.77) rotate(-90)" x="0" y="0">900-1100</text>
<rect x="880.4" y="846" width="29.2" height="77.5" fill="#fff"/>
<rect x="909" y="855" width="51" height="61" fill="#fff"/>
<line x1="880.60" y1="846.30" x2="880.60" y2="923.50" stroke="#111" stroke-width="1.2" />
<rect x="880.40" y="846.30" width="29.40" height="6.30" fill="#111"/>
<rect x="887.50" y="844.80" width="15.20" height="2.20" fill="#111"/>
<rect x="889.00" y="847.20" width="4.00" height="2.00" fill="#fff"/>
<rect x="896.00" y="847.20" width="4.00" height="2.00" fill="#fff"/>
<rect x="880.40" y="917.80" width="29.40" height="5.80" fill="#111"/>
<rect x="887.50" y="923.00" width="15.20" height="2.60" fill="#111"/>
<rect x="889.00" y="920.50" width="4.00" height="2.00" fill="#fff"/>
<rect x="896.00" y="920.50" width="4.00" height="2.00" fill="#fff"/>
<line x1="909.00" y1="852.00" x2="909.00" y2="866.00" stroke="#111" stroke-width="2" />
<line x1="909.00" y1="904.40" x2="909.00" y2="918.70" stroke="#111" stroke-width="2" />
<rect x="880.5" y="857.3" width="4.9" height="56" fill="#fff" stroke="#111" stroke-width="2.2"/>
<path d="M892,869.5 C889,871.5 887.6,874 887.6,877 L887.6,893.5 C887.6,896.5 889,899 892,901" fill="none" stroke="#111" stroke-width="2.6" />
<line x1="890.30" y1="876.00" x2="890.30" y2="894.50" stroke="#111" stroke-width="1.4" />
<circle cx="895.3" cy="865.7" r="6" fill="#111"/>
<circle cx="895.3" cy="904.2" r="6" fill="#111"/>
<circle cx="893.6" cy="863.8" r="0.55" fill="#777"/>
<circle cx="897.3" cy="865.2" r="0.55" fill="#777"/>
<circle cx="894" cy="868" r="0.55" fill="#777"/>
<circle cx="893.6" cy="902" r="0.55" fill="#777"/>
<circle cx="897.3" cy="903.2" r="0.55" fill="#777"/>
<circle cx="895.5" cy="906.5" r="0.55" fill="#777"/>
<rect x="895" y="874" width="22.4" height="21.7" fill="#fff" stroke="#111" stroke-width="2"/>
<line x1="895.00" y1="873.00" x2="895.00" y2="896.70" stroke="#111" stroke-width="2.6" />
<line x1="909.00" y1="852.00" x2="909.00" y2="864.80" stroke="#111" stroke-width="2.2" />
<line x1="909.00" y1="904.60" x2="909.00" y2="918.50" stroke="#111" stroke-width="2.2" />
<rect x="910.4" y="859.3" width="6.5" height="5.4" fill="#fff" stroke="#111" stroke-width="1.8"/>
<rect x="910.4" y="905.3" width="6.5" height="5.1" fill="#fff" stroke="#111" stroke-width="1.8"/>
<line x1="900.80" y1="870.80" x2="909.00" y2="864.80" stroke="#111" stroke-width="2.3" />
<line x1="903.50" y1="874.00" x2="913.00" y2="867.00" stroke="#111" stroke-width="2" />
<line x1="900.80" y1="899.00" x2="909.00" y2="904.80" stroke="#111" stroke-width="2.3" />
<line x1="903.50" y1="895.70" x2="913.00" y2="902.80" stroke="#111" stroke-width="2" />
<path d="M920.5,856.1 L937.1,856.1 L937.1,914.4 L920.5,914.4 L918,911.5 L918,859 Z" fill="#fff" stroke="#111" stroke-width="2.2"/>
<line x1="920.00" y1="863.50" x2="937.10" y2="863.50" stroke="#111" stroke-width="1.7" />
<line x1="920.00" y1="866.80" x2="937.10" y2="866.80" stroke="#111" stroke-width="1.7" />
<line x1="920.00" y1="902.80" x2="937.10" y2="902.80" stroke="#111" stroke-width="1.7" />
<line x1="920.00" y1="907.00" x2="937.10" y2="907.00" stroke="#111" stroke-width="1.7" />
<rect x="937.10" y="855.10" width="22.70" height="60.40" fill="#111"/>
<line x1="942.00" y1="857.00" x2="942.00" y2="914.00" stroke="#3a3a3a" stroke-width="0.5" />
<line x1="947.50" y1="857.00" x2="947.50" y2="914.00" stroke="#3a3a3a" stroke-width="0.5" />
<line x1="953.00" y1="857.00" x2="953.00" y2="914.00" stroke="#3a3a3a" stroke-width="0.5" />
<rect x="961" y="838.6" width="3" height="93.6" fill="#fff" stroke="#111" stroke-width="1.7"/>
<path d="M964,868.6 L1006.7,868.6 C1008.5,871 1012,872.3 1017,872.3 C1022,872.3 1026,871 1027.7,868.6 L1030.8,868.6 L1030.8,901.4 L1025.4,901.4 C1023.5,899.2 1020,898.2 1016.8,898.2 C1013,898.2 1010,899.2 1008.2,901.4 L997.4,901.4 C995.5,899.5 992,898.9 988.5,898.9 C985,898.9 981.5,899.5 979.5,901.4 L964,901.4 Z" fill="#fff" stroke="#111" stroke-width="2.3"/>
<rect x="986.50" y="863.80" width="7.70" height="4.80" rx="1.5" ry="1.5" fill="#fff" stroke="#111" stroke-width="1.8"/>
<rect x="1007.3" y="699" width="19.5" height="166" fill="#fff"/>
<rect x="1007.30" y="699.00" width="19.50" height="3.80" fill="#111"/>
<rect x="1007.30" y="699.00" width="1.70" height="165.00" fill="#111"/>
<rect x="1010.40" y="699.00" width="1.70" height="165.00" fill="#111"/>
<rect x="1022.00" y="699.00" width="1.70" height="165.00" fill="#111"/>
<rect x="1025.10" y="699.00" width="1.70" height="165.00" fill="#111"/>
<rect x="1009" y="702" width="1.4" height="148" fill="#999"/>
<rect x="1023.7" y="702" width="1.4" height="148" fill="#999"/>
<path d="M1006.8,864.4 C1006,858 1007,852 1008.2,849.6 L1011.2,849.6 L1011.2,861.6 L1022.5,861.6 L1022.5,849.6 L1026.3,849.6 C1027.6,852 1028.4,858 1027.7,864.4 Z" fill="#111"/>
<path d="M1007,864.6 C1007.5,869.5 1011.5,872.3 1017.2,872.3 C1023,872.3 1027,869.5 1027.6,864.6" fill="#fff" stroke="#111" stroke-width="2.3" />
<rect x="1026" y="715.00" width="2.6" height="2.6" rx="1" fill="#111"/>
<rect x="1026" y="718.70" width="2.6" height="2.6" rx="1" fill="#111"/>
<rect x="1026" y="722.40" width="2.6" height="2.6" rx="1" fill="#111"/>
<rect x="1026" y="726.10" width="2.6" height="2.6" rx="1" fill="#111"/>
<rect x="1026" y="729.80" width="2.6" height="2.6" rx="1" fill="#111"/>
<rect x="1026" y="733.50" width="2.6" height="2.6" rx="1" fill="#111"/>
<rect x="1026" y="737.20" width="2.6" height="2.6" rx="1" fill="#111"/>
<rect x="1026" y="740.90" width="2.6" height="2.6" rx="1" fill="#111"/>
<rect x="1026" y="744.60" width="2.6" height="2.6" rx="1" fill="#111"/>
<rect x="1026" y="748.30" width="2.6" height="2.6" rx="1" fill="#111"/>
<rect x="1026" y="752.00" width="2.6" height="2.6" rx="1" fill="#111"/>
<line x1="981.30" y1="901.40" x2="981.30" y2="907.00" stroke="#111" stroke-width="2" />
<line x1="995.60" y1="901.40" x2="995.60" y2="907.00" stroke="#111" stroke-width="2" />
<ellipse cx="988.4" cy="912.6" rx="10.8" ry="6.3" fill="#fff" stroke="#111" stroke-width="2.5"/>
<line x1="982.30" y1="906.80" x2="982.30" y2="918.40" stroke="#111" stroke-width="1.6" />
<line x1="994.50" y1="906.80" x2="994.50" y2="918.40" stroke="#111" stroke-width="1.6" />
<circle cx="988.4" cy="912.4" r="3.6" fill="#fff" stroke="#111" stroke-width="2"/>
<rect x="981.8" y="918.8" width="12.8" height="14" fill="#fff" stroke="#111" stroke-width="2"/>
<path d="M982.80,932.10 C982.87,938.05 983.27,957.10 983.20,967.80 C983.13,978.50 983.30,983.22 982.40,996.30 C981.50,1009.38 979.75,1029.65 977.80,1046.30 C975.85,1062.95 972.92,1080.58 970.70,1096.20 C968.48,1111.82 966.50,1125.08 964.50,1140.00 C962.50,1154.92 960.30,1170.45 958.70,1185.70 C957.10,1200.95 955.67,1217.52 954.90,1231.50 C954.13,1245.48 953.85,1256.90 954.10,1269.60 C954.35,1282.30 954.87,1296.27 956.40,1307.70 C957.93,1319.13 960.12,1329.82 963.30,1338.20 C966.48,1346.58 970.55,1353.18 975.50,1358.00 C980.45,1362.82 987.42,1366.60 993.00,1367.10 C998.58,1367.60 1004.05,1365.32 1009.00,1361.00 C1013.95,1356.68 1018.88,1350.08 1022.70,1341.20 C1026.52,1332.32 1029.73,1319.63 1031.90,1307.70 C1034.07,1295.77 1035.07,1282.30 1035.70,1269.60 C1036.33,1256.90 1036.08,1245.48 1035.70,1231.50 C1035.32,1217.52 1034.08,1200.12 1033.40,1185.70 C1032.72,1171.28 1032.55,1164.67 1031.60,1145.00 C1030.65,1125.33 1028.93,1091.28 1027.70,1067.70 C1026.47,1044.12 1025.15,1027.28 1024.20,1003.50 C1023.25,979.72 1022.38,942.02 1022.00,925.00 C1021.62,907.98 1021.92,905.33 1021.90,901.40" fill="none" stroke="#111" stroke-width="2.2" />
<path d="M994.20,932.10 C994.20,938.05 994.55,954.72 994.20,967.80 C993.85,980.88 993.40,996.33 992.10,1010.60 C990.80,1024.87 988.55,1037.95 986.40,1053.40 C984.25,1068.85 981.10,1088.87 979.20,1103.30 C977.30,1117.73 976.88,1126.27 975.00,1140.00 C973.12,1153.73 969.72,1169.20 967.90,1185.70 C966.08,1202.20 964.62,1222.48 964.10,1239.00 C963.58,1255.52 963.67,1270.82 964.80,1284.80 C965.93,1298.78 968.10,1312.48 970.90,1322.90 C973.70,1333.32 977.92,1341.70 981.60,1347.30 C985.28,1352.90 988.93,1355.98 993.00,1356.50 C997.07,1357.02 1002.07,1354.73 1006.00,1350.40 C1009.93,1346.07 1013.68,1340.17 1016.60,1330.50 C1019.52,1320.83 1022.10,1306.37 1023.50,1292.40 C1024.90,1278.43 1025.00,1261.93 1025.00,1246.70 C1025.00,1231.47 1024.25,1218.45 1023.50,1201.00 C1022.75,1183.55 1021.45,1164.22 1020.50,1142.00 C1019.55,1119.78 1018.97,1091.98 1017.80,1067.70 C1016.63,1043.42 1014.58,1020.08 1013.50,996.30 C1012.42,972.52 1011.58,940.82 1011.30,925.00 C1011.02,909.18 1011.72,905.33 1011.80,901.40" fill="none" stroke="#111" stroke-width="2.2" />
<line x1="771.10" y1="885.30" x2="936.50" y2="885.30" stroke="#2a2a2a" stroke-width="1.35" />
<line x1="922.30" y1="944.80" x2="1072.20" y2="944.80" stroke="#2a2a2a" stroke-width="1.35" />
<line x1="1030.40" y1="913.60" x2="1030.40" y2="957.70" stroke="#2a2a2a" stroke-width="1.35" />
<polygon points="960.00,944.80 941.00,948.00 941.00,941.60" fill="#111"/>
<polygon points="1030.40,944.80 1049.40,941.60 1049.40,948.00" fill="#111"/>
<text x="1075.29" y="956.74">84</text>
<line x1="842.50" y1="994.40" x2="1025.40" y2="994.40" stroke="#2a2a2a" stroke-width="1.35" />
<line x1="880.10" y1="925.70" x2="880.10" y2="1006.80" stroke="#2a2a2a" stroke-width="1.35" />
<polygon points="880.10,994.40 861.10,997.60 861.10,991.20" fill="#111"/>
<polygon points="960.00,994.40 979.00,991.20 979.00,997.60" fill="#111"/>
<text x="1029.01" y="1006.74">76-102</text>
</svg></body></html>
